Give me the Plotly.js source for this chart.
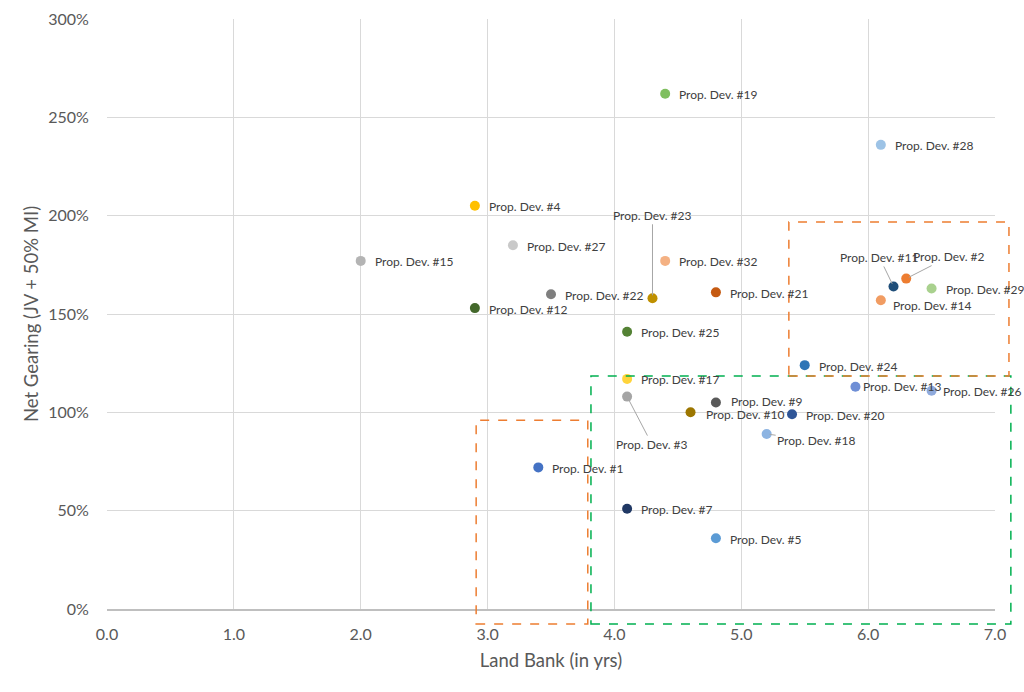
<!DOCTYPE html>
<html>
<head>
<meta charset="utf-8">
<script src="https://cdn.plot.ly/plotly-3.0.1.min.js"></script>
<style>html,body{margin:0;padding:0;background:#fff;}#chart{width:1024px;height:692px;}</style>
</head>
<body>
<div id="chart"></div>
<script>
// ---- data ----
var names = ["Prop. Dev. #19","Prop. Dev. #28","Prop. Dev. #4","Prop. Dev. #27","Prop. Dev. #15","Prop. Dev. #32",
  "Prop. Dev. #23","Prop. Dev. #22","Prop. Dev. #21","Prop. Dev. #12","Prop. Dev. #25","Prop. Dev. #11",
  "Prop. Dev. #2","Prop. Dev. #29","Prop. Dev. #14","Prop. Dev. #24","Prop. Dev. #13","Prop. Dev. #26",
  "Prop. Dev. #17","Prop. Dev. #3","Prop. Dev. #9","Prop. Dev. #10","Prop. Dev. #20","Prop. Dev. #18",
  "Prop. Dev. #1","Prop. Dev. #7","Prop. Dev. #5"];
var landBank = [4.4,6.1,2.9,3.2,2.0,4.4,4.3,3.5,4.8,2.9,4.1,6.2,6.3,6.5,6.1,5.5,5.9,6.5,4.1,4.1,4.8,4.6,5.4,5.2,3.4,4.1,4.8];
var netGearing = [262,236,205,185,177,177,158,160,161,153,141,164,168,163,157,124,113,111,117,108,105,100,99,89,72,51,36];
var xTicks = [0,1,2,3,4,5,6,7];
var yTicks = [0,50,100,150,200,250,300];
var yTickText = yTicks.map(function(v){return v + '%';});

// ---- styles ----
var colors = ["#7FBF5F","#9DC3E6","#FFC000","#C9C9C9","#B4B4B4","#F4B183","#BF9000","#7F7F7F","#C55A11",
  "#43682B","#548235","#1F4E79","#ED7D31","#A9D18E","#F19C62","#2E75B6","#6F8FD6","#8FAADC","#FFD43B",
  "#A5A5A5","#595959","#9C7600","#2F5597","#8DB4E2","#4472C4","#203864","#5B9BD5"];

// label placement overrides (pixels): leader-lined labels and small shifts
var leader = {
  "Prop. Dev. #23": {ax:0, ay:-83},
  "Prop. Dev. #3":  {ax:25, ay:48},
  "Prop. Dev. #11": {ax:-14, ay:-29},
  "Prop. Dev. #2":  {ax:43, ay:-22},
  "Prop. Dev. #18": {ax:50, ay:7}
};
var shift = {"Prop. Dev. #13": {dx:6, dy:0}, "Prop. Dev. #14": {dx:10, dy:-5}, "Prop. Dev. #26": {dx:9, dy:-1},
  "Prop. Dev. #9": {dx:13, dy:1}, "Prop. Dev. #10": {dx:13, dy:-2}};

var xr = [0,7], yr = [0,300];
function px(x){return (x-xr[0])/(xr[1]-xr[0]);}
function py(y){return (y-yr[0])/(yr[1]-yr[0]);}

// highlight boxes, in data units
var boxes = [
  {x0:2.91, x1:3.79, y0:-7.6, y1:96, color:"#ED7D31"},
  {x0:3.815, x1:7.125, y0:-7.6, y1:118.5, color:"#00B050"},
  {x0:5.375, x1:7.11, y0:118.5, y1:196.8, color:"#ED7D31"}
];

var font = "Lato, 'Open Sans', sans-serif";
var lblFont = {family:font, size:12, color:'#404040'};
var annotations = [];
for (var i=0;i<names.length;i++){
  var n = names[i];
  if (leader[n]) {
    annotations.push({x:landBank[i], y:netGearing[i], xref:'x', yref:'y', text:n, showarrow:true,
      arrowhead:0, arrowwidth:1, arrowcolor:'#A6A6A6', ax:leader[n].ax, ay:leader[n].ay, standoff:3,
      font:lblFont});
  } else {
    var s = shift[n] || {dx:12, dy:-1};
    annotations.push({x:landBank[i], y:netGearing[i], xref:'x', yref:'y', text:n, showarrow:false,
      xanchor:'left', yanchor:'middle', xshift:s.dx, yshift:s.dy, font:lblFont});
  }
}

var shapes = boxes.map(function(b){
  return {type:'rect', xref:'paper', yref:'paper', x0:px(b.x0), x1:px(b.x1), y0:py(b.y0), y1:py(b.y1),
    line:{color:b.color, width:1.5, dash:'dash'}, fillcolor:'rgba(0,0,0,0)', layer:'above'};
});

var trace = {x:landBank, y:netGearing, text:names, mode:'markers', type:'scatter',
  marker:{size:10, color:colors}, cliponaxis:false, hoverinfo:'text+x+y'};

var layout = {
  width:1024, height:692,
  margin:{l:107, r:29, t:19, b:83},
  paper_bgcolor:'#fff', plot_bgcolor:'#fff',
  showlegend:false,
  font:{family:font, color:'#595959'},
  xaxis:{range:xr, tickvals:xTicks, tickformat:'.1f', showgrid:true, gridcolor:'#D9D9D9', gridwidth:1,
    zeroline:false, showline:true, linecolor:'#BFBFBF', linewidth:1.5, ticks:'outside', ticklen:10, tickcolor:'rgba(0,0,0,0)',
    tickfont:{size:16, color:'#595959'},
    title:{text:'Land Bank (in yrs)', font:{size:18.5, color:'#595959'}, standoff:12}},
  yaxis:{range:yr, tickmode:'array', tickvals:yTicks, ticktext:yTickText, showgrid:true, gridcolor:'#D9D9D9', gridwidth:1,
    zeroline:false, showline:false, ticks:'outside', ticklen:14, tickcolor:'rgba(0,0,0,0)',
    tickfont:{size:16, color:'#595959'},
    title:{text:'Net Gearing (JV + 50% MI)', font:{size:18.5, color:'#595959'}, standoff:4}},
  annotations:annotations,
  shapes:shapes
};
Plotly.newPlot('chart',[trace],layout,{staticPlot:true});
</script>
</body>
</html>
